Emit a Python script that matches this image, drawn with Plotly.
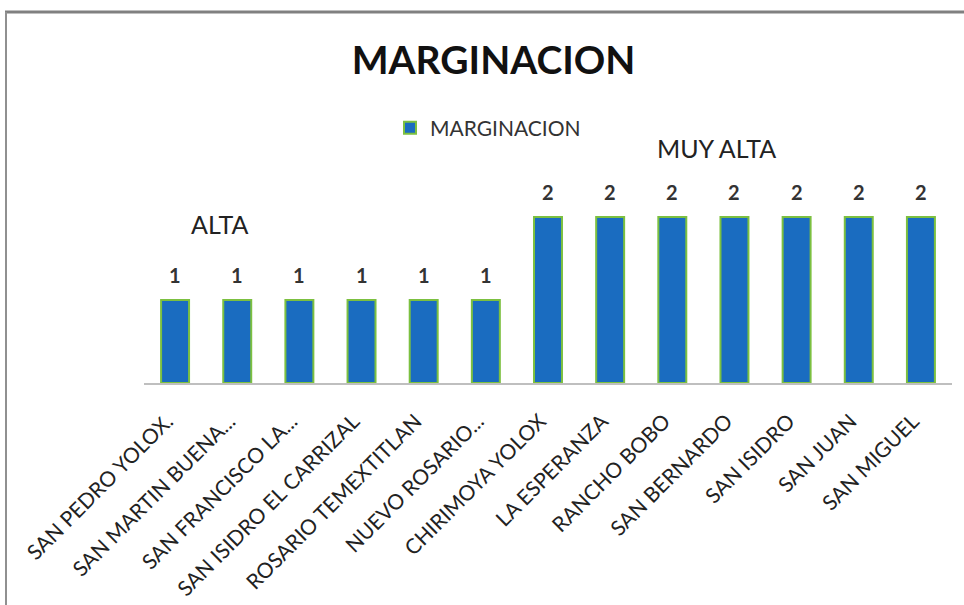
import plotly.graph_objects as go

categories = ["SAN PEDRO YOLOX.", "SAN MARTIN BUENA...", "SAN FRANCISCO LA...",
              "SAN ISIDRO EL CARRIZAL", "ROSARIO TEMEXTITLAN", "NUEVO ROSARIO...",
              "CHIRIMOYA YOLOX", "LA ESPERANZA", "RANCHO BOBO", "SAN BERNARDO",
              "SAN ISIDRO", "SAN JUAN", "SAN MIGUEL"]
values = [1, 1, 1, 1, 1, 1, 2, 2, 2, 2, 2, 2, 2]
series_name = "MARGINACION"
group_labels = ["ALTA", "MUY ALTA"]

W, H = 964, 605
L, R, T, B = 144, 12, 20, 222
pw, ph = W - L - R, H - T - B
ymax = ph / 83.0

def px_x(x):
    return (x - L) / pw

def px_y(y):
    return (H - B - y) / ph

FONT = "Lato"

fig = go.Figure(go.Bar(
    x=categories, y=values, name=series_name,
    marker=dict(color="#1a6cc0", line=dict(color="#7cc040", width=2)),
    showlegend=True,
))

value_labels = [
    dict(x=c, y=v, xref="x", yref="y", text=str(v), showarrow=False,
         yanchor="bottom", yshift=11,
         font=dict(family=FONT, size=20, color="#333333", weight="bold"))
    for c, v in zip(categories, values)
]

fig.update_layout(
    width=W, height=H,
    margin=dict(l=L, r=R, t=T, b=B, autoexpand=False),
    paper_bgcolor="white", plot_bgcolor="white",
    bargap=0.55,
    font=dict(family=FONT, color="#222222"),
    title=dict(text="<b>MARGINACION</b>", x=493.5 / W, xanchor="center",
               y=1 - 60 / H, yanchor="middle", yref="container",
               font=dict(family=FONT, size=39, color="#111111")),
    legend=dict(x=px_x(390), xanchor="left", y=px_y(128), yanchor="middle",
                orientation="h", font=dict(family=FONT, size=21, color="#333333"),
                bgcolor="rgba(0,0,0,0)", itemwidth=30),
    xaxis=dict(tickangle=-45, tickfont=dict(family=FONT, size=21, color="#222222"),
               ticklabelstandoff=16, ticklabelshift=-8, automargin=False,
               showline=True, linecolor="#bfbfbf", linewidth=1.5,
               ticks="", showgrid=False, range=[-0.5, len(categories) - 0.5]),
    yaxis=dict(range=[0, ymax], visible=False, showgrid=False, automargin=False),
    annotations=value_labels + [
        dict(text=group_labels[0], x=px_x(219), y=px_y(224), xref="paper", yref="paper",
             xanchor="center", yanchor="middle", showarrow=False,
             font=dict(family=FONT, size=25, color="#222222")),
        dict(text=group_labels[1], x=px_x(716), y=px_y(148), xref="paper", yref="paper",
             xanchor="center", yanchor="middle", showarrow=False,
             font=dict(family=FONT, size=25, color="#222222")),
    ],
    shapes=[
        dict(type="line", xref="paper", yref="paper", x0=px_x(5), x1=px_x(964),
             y0=px_y(12), y1=px_y(12), line=dict(color="#808080", width=3)),
        dict(type="line", xref="paper", yref="paper", x0=px_x(6), x1=px_x(6),
             y0=px_y(12), y1=px_y(605), line=dict(color="#909090", width=2)),
    ],
)

fig.write_html("out.html", config={"displayModeBar": False},
               post_script="document.body.style.margin='0';")
